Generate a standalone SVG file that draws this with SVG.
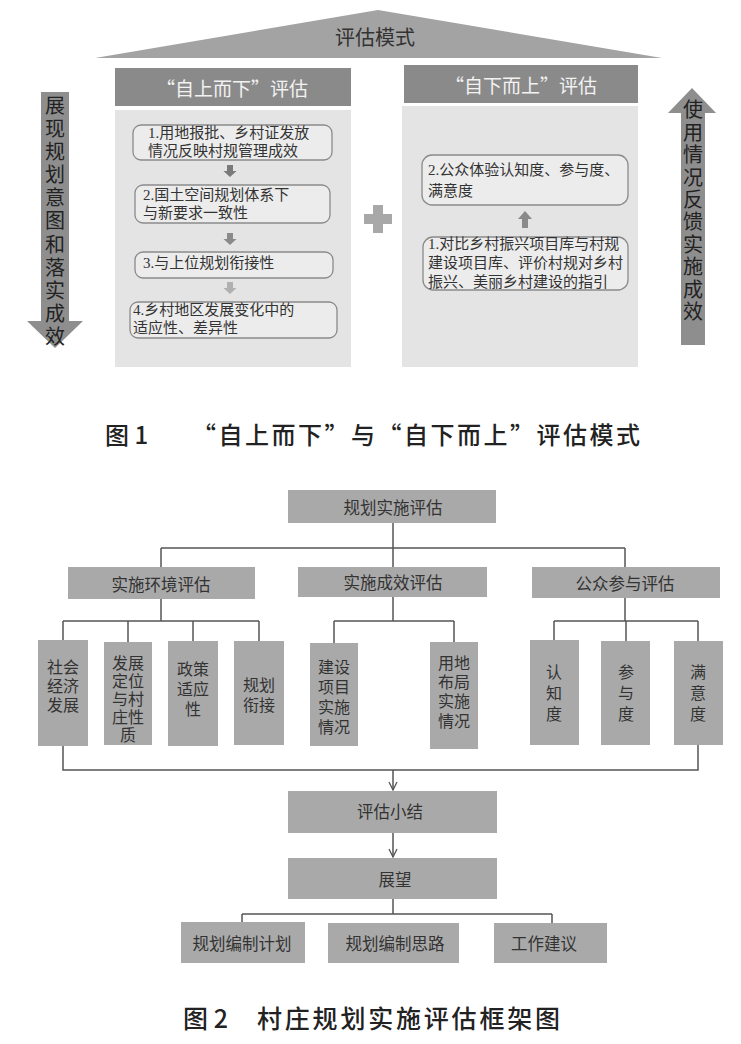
<svg xmlns="http://www.w3.org/2000/svg" width="741" height="1044" viewBox="0 0 741 1044">
<style>
.t{font-family:"Liberation Serif","Noto Sans CJK SC",serif;font-size:15px;fill:#333}
.h{font-family:"Noto Sans CJK SC",sans-serif;font-size:19px;fill:#f2f2f2;text-anchor:middle;dominant-baseline:central}
.v{font-family:"Noto Sans CJK SC",sans-serif;font-size:20px;fill:#222;text-anchor:middle;dominant-baseline:central}
.ib{fill:#ececec;stroke:#8a8a8a;stroke-width:1.3}
.n{fill:#a9a9a9}
.nt{font-family:"Noto Sans CJK SC",sans-serif;font-size:16.5px;fill:#333;text-anchor:middle;dominant-baseline:central}
.lt{font-family:"Noto Sans CJK SC",sans-serif;font-size:16px;fill:#333;text-anchor:middle;dominant-baseline:central}
.cap{font-family:"Noto Sans CJK SC",sans-serif;font-size:24px;font-weight:500;fill:#222;dominant-baseline:central}
.c{fill:none;stroke:#555;stroke-width:1.5}
</style>
<defs>
<path id="da" d="M-3,0 H3 V6 H6.5 L0,12 L-6.5,6 H-3 Z"/>
<marker id="arr" markerWidth="10" markerHeight="10" refX="9" refY="5" orient="auto" markerUnits="userSpaceOnUse">
<path d="M1,1 L9,5 L1,9" fill="none" stroke="#555" stroke-width="1.3"/>
</marker>
</defs>
<rect width="741" height="1044" fill="#fff"/>

<!-- Figure 1 -->
<g id="roof">
<polygon points="378,10 662,58 95,58" fill="#a3a3a3"/>
<text x="375" y="36" class="v" style="font-size:20px;fill:#333">评估模式</text>
</g>
<g id="header-left">
<rect x="115" y="68" width="236" height="38" fill="#8a8a8a"/>
<text x="232" y="87" class="h">“自上而下”评估</text>
</g>
<g id="header-right">
<rect x="404" y="65" width="234" height="38" fill="#8a8a8a"/>
<text x="521" y="84" class="h">“自下而上”评估</text>
</g>
<g id="panel-left">
<rect x="115" y="110" width="236" height="257" fill="#e4e4e4"/>
</g>
<g id="panel-right">
<rect x="402" y="106" width="236" height="261" fill="#e4e4e4"/>
</g>
<g id="l1">
<rect x="133" y="125" width="199" height="35" rx="8" class="ib"/>
<text class="t"><tspan x="148" y="138">1.用地报批、乡村证发放</tspan><tspan x="148" y="156">情况反映村规管理成效</tspan></text>
</g>
<g id="l2">
<rect x="135" y="185" width="195" height="38" rx="8" class="ib"/>
<text class="t"><tspan x="143" y="200">2.国土空间规划体系下</tspan><tspan x="143" y="218">与新要求一致性</tspan></text>
</g>
<g id="l3">
<rect x="135" y="252" width="198" height="26" rx="8" class="ib"/>
<text class="t" x="143" y="268">3.与上位规划衔接性</text>
</g>
<g id="l4">
<rect x="130" y="302" width="207" height="36" rx="8" class="ib"/>
<text class="t"><tspan x="133" y="315">4.乡村地区发展变化中的</tspan><tspan x="133" y="333">适应性、差异性</tspan></text>
</g>
<g id="r2">
<rect x="422" y="155" width="206" height="50" rx="10" class="ib"/>
<text class="t"><tspan x="428" y="175">2.公众体验认知度、参与度、</tspan><tspan x="428" y="196">满意度</tspan></text>
</g>
<g id="r1">
<rect x="423" y="237" width="205" height="53" rx="10" class="ib"/>
<text class="t"><tspan x="428" y="249">1.对比乡村振兴项目库与村规</tspan><tspan x="428" y="268">建设项目库、评价村规对乡村</tspan><tspan x="428" y="287">振兴、美丽乡村建设的指引</tspan></text>
</g>
<g id="small-arrows">
<use href="#da" x="230" y="165" fill="#7a7a7a"/>
<use href="#da" x="230" y="233" fill="#8a8a8a"/>
<use href="#da" x="230" y="282" fill="#b0b0b0"/>
<path d="M522,228 H528 V219 H532 L525,211 L518,219 H522 Z" fill="#8a8a8a"/>
</g>
<g id="plus">
<rect x="364" y="214" width="28" height="10" fill="#a8a8a8"/>
<rect x="373" y="205" width="10" height="28" fill="#a8a8a8"/>
</g>
<g id="arrow-left">
<path d="M41,92 H69 V321 H83 L55,348 L27,321 H41 Z" fill="#8e8e8e"/>
<text class="v"><tspan x="55" y="104">展</tspan><tspan x="55" y="127">现</tspan><tspan x="55" y="150">规</tspan><tspan x="55" y="173">划</tspan><tspan x="55" y="196">意</tspan><tspan x="55" y="219">图</tspan><tspan x="55" y="243">和</tspan><tspan x="55" y="266">落</tspan><tspan x="55" y="289">实</tspan><tspan x="55" y="312">成</tspan><tspan x="55" y="335">效</tspan></text>
</g>
<g id="arrow-right">
<path d="M692,88 L716,113 H705 V345 H681 V113 H668 Z" fill="#8e8e8e"/>
<text class="v"><tspan x="693" y="108">使</tspan><tspan x="693" y="131">用</tspan><tspan x="693" y="153">情</tspan><tspan x="693" y="176">况</tspan><tspan x="693" y="198">反</tspan><tspan x="693" y="220">馈</tspan><tspan x="693" y="243">实</tspan><tspan x="693" y="265">施</tspan><tspan x="693" y="288">成</tspan><tspan x="693" y="310">效</tspan></text>
</g>
<g id="caption1">
<text class="cap" x="105" y="433">图 1</text>
<text class="cap" x="192" y="433" textLength="448" lengthAdjust="spacing">“自上而下”与“自下而上”评估模式</text>
</g>

<!-- Figure 2 -->
<g id="connectors">
<path class="c" d="M393,523 V548 M161,548 H625 M161,548 V567 M393,548 V567 M625,548 V567"/>
<path class="c" d="M161,599 V621 M63,621 H259 M63,621 V641 M128,621 V642 M193,621 V641 M259,621 V641"/>
<path class="c" d="M393,597 V621 M334,621 H454 M334,621 V643 M454,621 V642"/>
<path class="c" d="M625,598 V621 M554,621 H698 M554,621 V640 M626,621 V641 M698,621 V641"/>
<path class="c" d="M63,746 V770 H698 V745"/>
<path class="c" d="M393,770 V790" marker-end="url(#arr)"/>
<path class="c" d="M393,833 V857" marker-end="url(#arr)"/>
<path class="c" d="M393,899 V914 M242,914 H552 M242,914 V922 M552,914 V923"/>
</g>
<g id="n-root"><rect class="n" x="288" y="490" width="208" height="33"/><text class="nt" x="393" y="507">规划实施评估</text></g>
<g id="n-env"><rect class="n" x="68" y="567" width="187" height="32"/><text class="nt" x="161" y="584">实施环境评估</text></g>
<g id="n-eff"><rect class="n" x="298" y="567" width="189" height="30"/><text class="nt" x="393" y="582">实施成效评估</text></g>
<g id="n-pub"><rect class="n" x="532" y="567" width="188" height="31"/><text class="nt" x="625" y="583">公众参与评估</text></g>

<g id="leaf1"><rect class="n" x="38" y="640" width="50" height="106"/><text class="lt"><tspan x="63" y="666">社会</tspan><tspan x="63" y="685">经济</tspan><tspan x="63" y="704">发展</tspan></text></g>
<g id="leaf2"><rect class="n" x="104" y="642" width="48" height="103"/><text class="lt"><tspan x="128" y="662">发展</tspan><tspan x="128" y="680">定位</tspan><tspan x="128" y="698">与村</tspan><tspan x="128" y="716">庄性</tspan><tspan x="128" y="734">质</tspan></text></g>
<g id="leaf3"><rect class="n" x="168" y="641" width="50" height="105"/><text class="lt"><tspan x="193" y="668">政策</tspan><tspan x="193" y="688">适应</tspan><tspan x="193" y="708">性</tspan></text></g>
<g id="leaf4"><rect class="n" x="234" y="641" width="50" height="104"/><text class="lt"><tspan x="259" y="684">规划</tspan><tspan x="259" y="704">衔接</tspan></text></g>
<g id="leaf5"><rect class="n" x="310" y="643" width="48" height="103"/><text class="lt"><tspan x="334" y="666">建设</tspan><tspan x="334" y="686">项目</tspan><tspan x="334" y="706">实施</tspan><tspan x="334" y="726">情况</tspan></text></g>
<g id="leaf6"><rect class="n" x="430" y="642" width="48" height="107"/><text class="lt"><tspan x="454" y="662">用地</tspan><tspan x="454" y="681">布局</tspan><tspan x="454" y="700">实施</tspan><tspan x="454" y="720">情况</tspan></text></g>
<g id="leaf7"><rect class="n" x="530" y="640" width="49" height="105"/><text class="lt"><tspan x="554" y="671">认</tspan><tspan x="554" y="692">知</tspan><tspan x="554" y="713">度</tspan></text></g>
<g id="leaf8"><rect class="n" x="601" y="641" width="49" height="104"/><text class="lt"><tspan x="626" y="671">参</tspan><tspan x="626" y="692">与</tspan><tspan x="626" y="713">度</tspan></text></g>
<g id="leaf9"><rect class="n" x="674" y="641" width="49" height="104"/><text class="lt"><tspan x="698" y="671">满</tspan><tspan x="698" y="692">意</tspan><tspan x="698" y="713">度</tspan></text></g>

<g id="n-sum"><rect class="n" x="288" y="791" width="209" height="42"/><text class="nt" x="390" y="811">评估小结</text></g>
<g id="n-out"><rect class="n" x="288" y="858" width="209" height="41"/><text class="nt" x="395" y="879">展望</text></g>
<g id="n-plan"><rect class="n" x="181" y="922" width="124" height="41"/><text class="nt" x="242" y="943">规划编制计划</text></g>
<g id="n-idea"><rect class="n" x="328" y="923" width="131" height="40"/><text class="nt" x="395" y="943">规划编制思路</text></g>
<g id="n-work"><rect class="n" x="494" y="923" width="113" height="40"/><text class="nt" x="544" y="943">工作建议</text></g>

<g id="caption2">
<text class="cap" x="183" y="1017" style="font-size:25px">图 2</text>
<text class="cap" x="257" y="1017" style="font-size:25px" textLength="303" lengthAdjust="spacing">村庄规划实施评估框架图</text>
</g>
</svg>
